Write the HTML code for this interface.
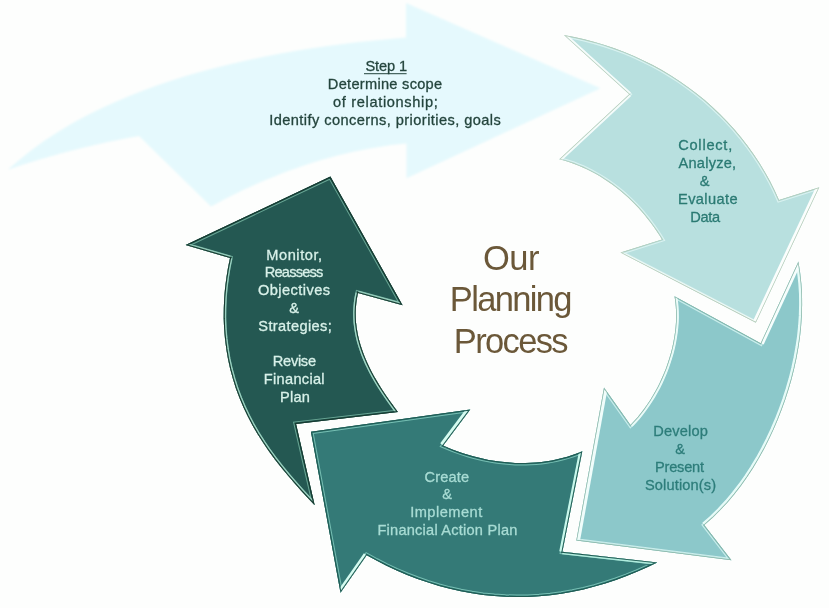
<!DOCTYPE html>
<html lang="en"><head><meta charset="utf-8"><title>Our Planning Process</title>
<style>
html,body{margin:0;padding:0;background:#fdfefd;}
body{width:829px;height:608px;overflow:hidden;position:relative;font-family:"Liberation Sans",sans-serif;}
svg{position:absolute;left:0;top:0;display:block}
text{font-family:"Liberation Sans",sans-serif;text-anchor:middle}
</style></head><body>
<svg width="829" height="608" viewBox="0 0 829 608">
<defs>
<filter id="soft" x="-5%" y="-10%" width="110%" height="120%"><feGaussianBlur stdDeviation="0.9"/></filter>
<clipPath id="ca2"><path d="M563.9,35.1L574.2,37.0L584.4,39.3L594.6,42.0L604.6,45.0L614.5,48.3L624.3,52.0L633.9,56.0L643.4,60.4L652.8,65.1L661.9,70.1L670.9,75.5L679.7,81.2L688.2,87.2L696.6,93.5L704.7,100.1L712.5,107.1L720.1,114.3L727.4,121.8L734.5,129.5L741.2,137.5L747.6,145.8L753.7,154.3L759.5,163.0L764.9,172.0L770.0,181.1L774.7,190.5L779.0,200.0L819.3,187.3L755.8,322.7L620.5,252.6L662.0,239.5L659.4,235.3L656.7,231.2L653.8,227.1L650.9,223.1L647.9,219.2L644.8,215.3L641.6,211.5L638.3,207.8L634.9,204.3L631.4,200.8L627.8,197.3L624.1,194.0L620.3,190.8L616.5,187.8L612.6,184.8L608.5,181.9L604.4,179.2L600.3,176.6L596.0,174.1L591.7,171.7L587.3,169.5L582.8,167.4L578.2,165.5L573.6,163.7L568.9,162.1L564.1,160.6L559.3,159.3L629.2,94.3Z"/></clipPath>
<clipPath id="ca3"><path d="M798.4,261.5L800.1,272.4L801.3,283.2L802.0,294.0L802.1,304.7L801.8,315.4L801.1,326.1L800.0,336.8L798.4,347.4L796.5,357.9L794.2,368.4L791.6,378.9L788.6,389.2L785.3,399.5L781.6,409.7L777.7,419.8L773.4,429.7L768.8,439.5L763.9,449.2L758.7,458.6L753.1,467.9L747.2,476.9L741.0,485.7L734.4,494.2L727.5,502.4L720.1,510.3L712.4,517.9L704.3,525.0L731.5,560.3L576.3,540.5L604.0,387.6L630.5,425.0L634.1,421.1L637.6,417.2L640.9,413.1L644.0,409.0L647.0,404.7L649.9,400.4L652.6,396.0L655.2,391.5L657.7,386.9L660.0,382.3L662.1,377.6L664.2,372.8L666.1,367.9L667.8,363.0L669.4,358.0L670.9,353.0L672.2,347.9L673.3,342.8L674.2,337.7L675.0,332.5L675.6,327.3L676.0,322.1L676.2,316.9L676.1,311.7L675.8,306.5L675.3,301.3L674.5,296.2L760.7,343.2Z"/></clipPath>
<clipPath id="ca4"><path d="M310.9,431.7L470.3,409.5L443.3,445.6L448.1,447.7L453.0,449.7L457.9,451.5L462.9,453.2L468.0,454.8L473.1,456.3L478.2,457.6L483.4,458.8L488.6,459.9L493.9,460.8L499.2,461.5L504.4,462.1L509.7,462.6L515.0,462.9L520.3,463.0L525.6,463.0L530.9,462.8L536.2,462.5L541.5,461.9L546.7,461.2L551.9,460.4L557.1,459.3L562.2,458.1L567.3,456.7L572.4,455.1L577.4,453.3L582.3,451.3L562.4,551.8L657.3,562.4L647.2,567.2L636.9,571.8L626.5,576.0L615.9,579.9L605.2,583.4L594.4,586.6L583.5,589.4L572.5,591.7L561.4,593.7L550.3,595.2L539.1,596.3L527.9,596.9L516.7,597.1L505.5,596.8L494.3,596.1L483.1,594.9L472.0,593.3L460.9,591.3L449.9,588.8L439.1,585.9L428.3,582.6L417.6,578.9L407.1,574.9L396.7,570.5L386.5,565.7L376.5,560.6L366.7,555.3L340.5,592.7Z"/></clipPath>
<clipPath id="ca5"><path d="M330.4,176.6L402.6,305.2L358.0,293.0L357.0,298.0L356.3,302.9L355.9,307.8L355.7,312.6L355.8,317.4L356.0,322.2L356.6,326.9L357.3,331.6L358.2,336.2L359.3,340.8L360.6,345.3L362.1,349.8L363.7,354.3L365.5,358.7L367.4,363.1L369.5,367.4L371.6,371.7L373.9,375.9L376.3,380.1L378.8,384.3L381.4,388.4L384.0,392.4L386.7,396.4L389.5,400.4L392.3,404.3L395.1,408.2L398.0,412.0L296.1,423.9L314.7,505.3L307.8,497.9L300.9,490.4L294.1,482.8L287.5,475.1L281.0,467.2L274.7,459.2L268.7,451.0L263.0,442.6L257.5,434.0L252.4,425.3L247.7,416.3L243.4,407.2L239.5,397.9L235.9,388.4L232.9,378.7L230.2,369.0L228.0,359.0L226.3,349.0L225.0,338.8L224.1,328.6L223.7,318.4L223.8,308.2L224.2,297.9L225.1,287.8L226.4,277.7L228.0,267.8L230.0,258.0L185.6,245.1Z"/></clipPath>
</defs>
<rect width="829" height="608" fill="#fdfefd"/>
<path d="M7.7,169.8L19.8,159.4L32.3,149.5L45.1,140.3L58.3,131.7L71.9,123.6L85.7,116.1L99.8,109.0L114.1,102.4L128.6,96.2L143.3,90.4L158.2,85.0L173.2,80.0L188.3,75.3L203.5,71.0L218.8,66.9L234.2,63.2L249.6,59.7L265.1,56.5L280.7,53.5L296.2,50.8L311.8,48.3L327.5,46.0L343.1,43.9L358.8,42.0L374.5,40.4L390.2,38.9L406.0,37.6L406.0,3.0L600.5,88.3L406.5,178.2L406.5,143.4L398.9,144.2L391.2,145.1L383.6,146.2L376.1,147.4L368.5,148.7L361.0,150.2L353.5,151.8L346.0,153.5L338.6,155.3L331.2,157.3L323.9,159.3L316.5,161.5L309.2,163.8L301.9,166.2L294.7,168.7L287.5,171.3L280.4,174.1L273.2,176.9L266.2,179.8L259.1,182.8L252.1,185.9L245.2,189.1L238.2,192.4L231.4,195.8L224.5,199.3L217.7,202.9L211.0,206.5L139.0,136.0L134.0,136.9L129.1,137.8L124.2,138.8L119.2,139.7L114.3,140.7L109.4,141.8L104.5,142.8L99.6,143.9L94.7,145.0L89.8,146.2L84.9,147.3L80.0,148.5L75.2,149.7L70.3,151.0L65.4,152.3L60.6,153.6L55.7,154.9L50.9,156.3L46.1,157.7L41.3,159.1L36.4,160.5L31.6,162.0L26.8,163.5L22.0,165.0L17.3,166.6L12.5,168.2L7.7,169.8Z" fill="#e5f9fd" filter="url(#soft)"/>
<g clip-path="url(#ca2)" fill="none" stroke-miterlimit="10"><path d="M563.9,35.1L574.2,37.0L584.4,39.3L594.6,42.0L604.6,45.0L614.5,48.3L624.3,52.0L633.9,56.0L643.4,60.4L652.8,65.1L661.9,70.1L670.9,75.5L679.7,81.2L688.2,87.2L696.6,93.5L704.7,100.1L712.5,107.1L720.1,114.3L727.4,121.8L734.5,129.5L741.2,137.5L747.6,145.8L753.7,154.3L759.5,163.0L764.9,172.0L770.0,181.1L774.7,190.5L779.0,200.0L819.3,187.3L755.8,322.7L620.5,252.6L662.0,239.5L659.4,235.3L656.7,231.2L653.8,227.1L650.9,223.1L647.9,219.2L644.8,215.3L641.6,211.5L638.3,207.8L634.9,204.3L631.4,200.8L627.8,197.3L624.1,194.0L620.3,190.8L616.5,187.8L612.6,184.8L608.5,181.9L604.4,179.2L600.3,176.6L596.0,174.1L591.7,171.7L587.3,169.5L582.8,167.4L578.2,165.5L573.6,163.7L568.9,162.1L564.1,160.6L559.3,159.3L629.2,94.3Z" fill="#b8e0df"/>
<path d="M563.9,35.1L574.2,37.0L584.4,39.3L594.6,42.0L604.6,45.0L614.5,48.3L624.3,52.0L633.9,56.0L643.4,60.4L652.8,65.1L661.9,70.1L670.9,75.5L679.7,81.2L688.2,87.2L696.6,93.5L704.7,100.1L712.5,107.1L720.1,114.3L727.4,121.8L734.5,129.5L741.2,137.5L747.6,145.8L753.7,154.3L759.5,163.0L764.9,172.0L770.0,181.1L774.7,190.5L779.0,200.0L819.3,187.3L755.8,322.7L620.5,252.6L662.0,239.5L659.4,235.3L656.7,231.2L653.8,227.1L650.9,223.1L647.9,219.2L644.8,215.3L641.6,211.5L638.3,207.8L634.9,204.3L631.4,200.8L627.8,197.3L624.1,194.0L620.3,190.8L616.5,187.8L612.6,184.8L608.5,181.9L604.4,179.2L600.3,176.6L596.0,174.1L591.7,171.7L587.3,169.5L582.8,167.4L578.2,165.5L573.6,163.7L568.9,162.1L564.1,160.6L559.3,159.3L629.2,94.3Z" stroke="#e6f8f5" stroke-opacity="0.75" stroke-width="4.5"/>
<path d="M563.9,35.1L574.2,37.0L584.4,39.3L594.6,42.0L604.6,45.0L614.5,48.3L624.3,52.0L633.9,56.0L643.4,60.4L652.8,65.1L661.9,70.1L670.9,75.5L679.7,81.2L688.2,87.2L696.6,93.5L704.7,100.1L712.5,107.1L720.1,114.3L727.4,121.8L734.5,129.5L741.2,137.5L747.6,145.8L753.7,154.3L759.5,163.0L764.9,172.0L770.0,181.1L774.7,190.5L779.0,200.0L819.3,187.3L755.8,322.7L620.5,252.6L662.0,239.5L659.4,235.3L656.7,231.2L653.8,227.1L650.9,223.1L647.9,219.2L644.8,215.3L641.6,211.5L638.3,207.8L634.9,204.3L631.4,200.8L627.8,197.3L624.1,194.0L620.3,190.8L616.5,187.8L612.6,184.8L608.5,181.9L604.4,179.2L600.3,176.6L596.0,174.1L591.7,171.7L587.3,169.5L582.8,167.4L578.2,165.5L573.6,163.7L568.9,162.1L564.1,160.6L559.3,159.3L629.2,94.3Z" stroke="#b8e0df" stroke-width="2.3"/>
<path d="M819.3,187.3L755.8,322.7" stroke="#fbfefd" stroke-opacity="1" stroke-width="6.5" stroke-linecap="butt"/>
<path d="M559.3,159.3L629.2,94.3" stroke="#f4fcfb" stroke-opacity="1" stroke-width="5.1" stroke-linecap="butt"/>
<path d="M629.2,94.3L563.9,35.1" stroke="#f4fcfb" stroke-opacity="1" stroke-width="5.1" stroke-linecap="butt"/>
<path d="M755.8,322.7L620.5,252.6" stroke="#f4fcfb" stroke-opacity="0.9" stroke-width="3.1" stroke-linecap="butt"/>
<path d="M563.9,35.1L574.2,37.0L584.4,39.3L594.6,42.0L604.6,45.0L614.5,48.3L624.3,52.0L633.9,56.0L643.4,60.4L652.8,65.1L661.9,70.1L670.9,75.5L679.7,81.2L688.2,87.2L696.6,93.5L704.7,100.1L712.5,107.1L720.1,114.3L727.4,121.8L734.5,129.5L741.2,137.5L747.6,145.8L753.7,154.3L759.5,163.0L764.9,172.0L770.0,181.1L774.7,190.5L779.0,200.0L819.3,187.3L755.8,322.7L620.5,252.6L662.0,239.5L659.4,235.3L656.7,231.2L653.8,227.1L650.9,223.1L647.9,219.2L644.8,215.3L641.6,211.5L638.3,207.8L634.9,204.3L631.4,200.8L627.8,197.3L624.1,194.0L620.3,190.8L616.5,187.8L612.6,184.8L608.5,181.9L604.4,179.2L600.3,176.6L596.0,174.1L591.7,171.7L587.3,169.5L582.8,167.4L578.2,165.5L573.6,163.7L568.9,162.1L564.1,160.6L559.3,159.3L629.2,94.3Z" stroke="#b3c9b4" stroke-width="1.3"/></g>
<g clip-path="url(#ca3)" fill="none" stroke-miterlimit="10"><path d="M798.4,261.5L800.1,272.4L801.3,283.2L802.0,294.0L802.1,304.7L801.8,315.4L801.1,326.1L800.0,336.8L798.4,347.4L796.5,357.9L794.2,368.4L791.6,378.9L788.6,389.2L785.3,399.5L781.6,409.7L777.7,419.8L773.4,429.7L768.8,439.5L763.9,449.2L758.7,458.6L753.1,467.9L747.2,476.9L741.0,485.7L734.4,494.2L727.5,502.4L720.1,510.3L712.4,517.9L704.3,525.0L731.5,560.3L576.3,540.5L604.0,387.6L630.5,425.0L634.1,421.1L637.6,417.2L640.9,413.1L644.0,409.0L647.0,404.7L649.9,400.4L652.6,396.0L655.2,391.5L657.7,386.9L660.0,382.3L662.1,377.6L664.2,372.8L666.1,367.9L667.8,363.0L669.4,358.0L670.9,353.0L672.2,347.9L673.3,342.8L674.2,337.7L675.0,332.5L675.6,327.3L676.0,322.1L676.2,316.9L676.1,311.7L675.8,306.5L675.3,301.3L674.5,296.2L760.7,343.2Z" fill="#8cc8ca"/>
<path d="M798.4,261.5L800.1,272.4L801.3,283.2L802.0,294.0L802.1,304.7L801.8,315.4L801.1,326.1L800.0,336.8L798.4,347.4L796.5,357.9L794.2,368.4L791.6,378.9L788.6,389.2L785.3,399.5L781.6,409.7L777.7,419.8L773.4,429.7L768.8,439.5L763.9,449.2L758.7,458.6L753.1,467.9L747.2,476.9L741.0,485.7L734.4,494.2L727.5,502.4L720.1,510.3L712.4,517.9L704.3,525.0L731.5,560.3L576.3,540.5L604.0,387.6L630.5,425.0L634.1,421.1L637.6,417.2L640.9,413.1L644.0,409.0L647.0,404.7L649.9,400.4L652.6,396.0L655.2,391.5L657.7,386.9L660.0,382.3L662.1,377.6L664.2,372.8L666.1,367.9L667.8,363.0L669.4,358.0L670.9,353.0L672.2,347.9L673.3,342.8L674.2,337.7L675.0,332.5L675.6,327.3L676.0,322.1L676.2,316.9L676.1,311.7L675.8,306.5L675.3,301.3L674.5,296.2L760.7,343.2Z" stroke="#d8f6f2" stroke-opacity="0.8" stroke-width="4.6"/>
<path d="M798.4,261.5L800.1,272.4L801.3,283.2L802.0,294.0L802.1,304.7L801.8,315.4L801.1,326.1L800.0,336.8L798.4,347.4L796.5,357.9L794.2,368.4L791.6,378.9L788.6,389.2L785.3,399.5L781.6,409.7L777.7,419.8L773.4,429.7L768.8,439.5L763.9,449.2L758.7,458.6L753.1,467.9L747.2,476.9L741.0,485.7L734.4,494.2L727.5,502.4L720.1,510.3L712.4,517.9L704.3,525.0L731.5,560.3L576.3,540.5L604.0,387.6L630.5,425.0L634.1,421.1L637.6,417.2L640.9,413.1L644.0,409.0L647.0,404.7L649.9,400.4L652.6,396.0L655.2,391.5L657.7,386.9L660.0,382.3L662.1,377.6L664.2,372.8L666.1,367.9L667.8,363.0L669.4,358.0L670.9,353.0L672.2,347.9L673.3,342.8L674.2,337.7L675.0,332.5L675.6,327.3L676.0,322.1L676.2,316.9L676.1,311.7L675.8,306.5L675.3,301.3L674.5,296.2L760.7,343.2Z" stroke="#8cc8ca" stroke-width="2.4"/>
<path d="M798.4,261.5L800.1,272.4L801.3,283.2L802.0,294.0L802.1,304.7L801.8,315.4L801.1,326.1L800.0,336.8L798.4,347.4L796.5,357.9L794.2,368.4L791.6,378.9L788.6,389.2L785.3,399.5L781.6,409.7L777.7,419.8L773.4,429.7L768.8,439.5L763.9,449.2L758.7,458.6L753.1,467.9L747.2,476.9L741.0,485.7L734.4,494.2L727.5,502.4L720.1,510.3L712.4,517.9L704.3,525.0" stroke="#e6fbf8" stroke-opacity="1" stroke-width="6.0" stroke-linecap="butt"/>
<path d="M576.3,540.5L604.0,387.6" stroke="#f0fdfb" stroke-opacity="1" stroke-width="7.4" stroke-linecap="butt"/>
<path d="M630.5,425.0L634.1,421.1L637.6,417.2L640.9,413.1L644.0,409.0L647.0,404.7L649.9,400.4L652.6,396.0L655.2,391.5L657.7,386.9L660.0,382.3L662.1,377.6L664.2,372.8L666.1,367.9L667.8,363.0L669.4,358.0L670.9,353.0L672.2,347.9L673.3,342.8L674.2,337.7L675.0,332.5L675.6,327.3L676.0,322.1L676.2,316.9L676.1,311.7L675.8,306.5L675.3,301.3L674.5,296.2" stroke="#e9fbf8" stroke-opacity="1" stroke-width="5.4" stroke-linecap="butt"/>
<path d="M760.7,343.2L798.4,261.5" stroke="#f6fefd" stroke-opacity="1" stroke-width="6.6" stroke-linecap="butt"/>
<path d="M731.5,560.3L576.3,540.5" stroke="#dcf7f3" stroke-opacity="0.7" stroke-width="3.0" stroke-linecap="butt"/>
<path d="M798.4,261.5L800.1,272.4L801.3,283.2L802.0,294.0L802.1,304.7L801.8,315.4L801.1,326.1L800.0,336.8L798.4,347.4L796.5,357.9L794.2,368.4L791.6,378.9L788.6,389.2L785.3,399.5L781.6,409.7L777.7,419.8L773.4,429.7L768.8,439.5L763.9,449.2L758.7,458.6L753.1,467.9L747.2,476.9L741.0,485.7L734.4,494.2L727.5,502.4L720.1,510.3L712.4,517.9L704.3,525.0L731.5,560.3L576.3,540.5L604.0,387.6L630.5,425.0L634.1,421.1L637.6,417.2L640.9,413.1L644.0,409.0L647.0,404.7L649.9,400.4L652.6,396.0L655.2,391.5L657.7,386.9L660.0,382.3L662.1,377.6L664.2,372.8L666.1,367.9L667.8,363.0L669.4,358.0L670.9,353.0L672.2,347.9L673.3,342.8L674.2,337.7L675.0,332.5L675.6,327.3L676.0,322.1L676.2,316.9L676.1,311.7L675.8,306.5L675.3,301.3L674.5,296.2L760.7,343.2Z" stroke="#86b3a4" stroke-width="1.4"/></g>
<g clip-path="url(#ca5)" fill="none" stroke-miterlimit="10"><path d="M330.4,176.6L402.6,305.2L358.0,293.0L357.0,298.0L356.3,302.9L355.9,307.8L355.7,312.6L355.8,317.4L356.0,322.2L356.6,326.9L357.3,331.6L358.2,336.2L359.3,340.8L360.6,345.3L362.1,349.8L363.7,354.3L365.5,358.7L367.4,363.1L369.5,367.4L371.6,371.7L373.9,375.9L376.3,380.1L378.8,384.3L381.4,388.4L384.0,392.4L386.7,396.4L389.5,400.4L392.3,404.3L395.1,408.2L398.0,412.0L296.1,423.9L314.7,505.3L307.8,497.9L300.9,490.4L294.1,482.8L287.5,475.1L281.0,467.2L274.7,459.2L268.7,451.0L263.0,442.6L257.5,434.0L252.4,425.3L247.7,416.3L243.4,407.2L239.5,397.9L235.9,388.4L232.9,378.7L230.2,369.0L228.0,359.0L226.3,349.0L225.0,338.8L224.1,328.6L223.7,318.4L223.8,308.2L224.2,297.9L225.1,287.8L226.4,277.7L228.0,267.8L230.0,258.0L185.6,245.1Z" fill="#245852"/>
<path d="M330.4,176.6L402.6,305.2L358.0,293.0L357.0,298.0L356.3,302.9L355.9,307.8L355.7,312.6L355.8,317.4L356.0,322.2L356.6,326.9L357.3,331.6L358.2,336.2L359.3,340.8L360.6,345.3L362.1,349.8L363.7,354.3L365.5,358.7L367.4,363.1L369.5,367.4L371.6,371.7L373.9,375.9L376.3,380.1L378.8,384.3L381.4,388.4L384.0,392.4L386.7,396.4L389.5,400.4L392.3,404.3L395.1,408.2L398.0,412.0L296.1,423.9L314.7,505.3L307.8,497.9L300.9,490.4L294.1,482.8L287.5,475.1L281.0,467.2L274.7,459.2L268.7,451.0L263.0,442.6L257.5,434.0L252.4,425.3L247.7,416.3L243.4,407.2L239.5,397.9L235.9,388.4L232.9,378.7L230.2,369.0L228.0,359.0L226.3,349.0L225.0,338.8L224.1,328.6L223.7,318.4L223.8,308.2L224.2,297.9L225.1,287.8L226.4,277.7L228.0,267.8L230.0,258.0L185.6,245.1Z" stroke="#7fbfa9" stroke-opacity="0.75" stroke-width="5.2"/>
<path d="M330.4,176.6L402.6,305.2L358.0,293.0L357.0,298.0L356.3,302.9L355.9,307.8L355.7,312.6L355.8,317.4L356.0,322.2L356.6,326.9L357.3,331.6L358.2,336.2L359.3,340.8L360.6,345.3L362.1,349.8L363.7,354.3L365.5,358.7L367.4,363.1L369.5,367.4L371.6,371.7L373.9,375.9L376.3,380.1L378.8,384.3L381.4,388.4L384.0,392.4L386.7,396.4L389.5,400.4L392.3,404.3L395.1,408.2L398.0,412.0L296.1,423.9L314.7,505.3L307.8,497.9L300.9,490.4L294.1,482.8L287.5,475.1L281.0,467.2L274.7,459.2L268.7,451.0L263.0,442.6L257.5,434.0L252.4,425.3L247.7,416.3L243.4,407.2L239.5,397.9L235.9,388.4L232.9,378.7L230.2,369.0L228.0,359.0L226.3,349.0L225.0,338.8L224.1,328.6L223.7,318.4L223.8,308.2L224.2,297.9L225.1,287.8L226.4,277.7L228.0,267.8L230.0,258.0L185.6,245.1Z" stroke="#245852" stroke-width="3.2"/>
<path d="M314.7,505.3L307.8,497.9L300.9,490.4L294.1,482.8L287.5,475.1L281.0,467.2L274.7,459.2L268.7,451.0L263.0,442.6L257.5,434.0L252.4,425.3L247.7,416.3L243.4,407.2L239.5,397.9L235.9,388.4L232.9,378.7L230.2,369.0L228.0,359.0L226.3,349.0L225.0,338.8L224.1,328.6L223.7,318.4L223.8,308.2L224.2,297.9L225.1,287.8L226.4,277.7L228.0,267.8L230.0,258.0" stroke="#a5dccb" stroke-opacity="0.85" stroke-width="4.8" stroke-linecap="butt"/>
<path d="M358.0,293.0L357.0,298.0L356.3,302.9L355.9,307.8L355.7,312.6L355.8,317.4L356.0,322.2L356.6,326.9L357.3,331.6L358.2,336.2L359.3,340.8L360.6,345.3L362.1,349.8L363.7,354.3L365.5,358.7L367.4,363.1L369.5,367.4L371.6,371.7L373.9,375.9L376.3,380.1L378.8,384.3L381.4,388.4L384.0,392.4L386.7,396.4L389.5,400.4L392.3,404.3L395.1,408.2L398.0,412.0" stroke="#a5dccb" stroke-opacity="0.9" stroke-width="5.0" stroke-linecap="butt"/>
<path d="M402.6,305.2L358.0,293.0" stroke="#a5dccb" stroke-opacity="0.8" stroke-width="4.6" stroke-linecap="butt"/>
<path d="M230.0,258.0L185.6,245.1" stroke="#a5dccb" stroke-opacity="0.8" stroke-width="4.6" stroke-linecap="butt"/>
<path d="M330.4,176.6L402.6,305.2L358.0,293.0L357.0,298.0L356.3,302.9L355.9,307.8L355.7,312.6L355.8,317.4L356.0,322.2L356.6,326.9L357.3,331.6L358.2,336.2L359.3,340.8L360.6,345.3L362.1,349.8L363.7,354.3L365.5,358.7L367.4,363.1L369.5,367.4L371.6,371.7L373.9,375.9L376.3,380.1L378.8,384.3L381.4,388.4L384.0,392.4L386.7,396.4L389.5,400.4L392.3,404.3L395.1,408.2L398.0,412.0L296.1,423.9L314.7,505.3L307.8,497.9L300.9,490.4L294.1,482.8L287.5,475.1L281.0,467.2L274.7,459.2L268.7,451.0L263.0,442.6L257.5,434.0L252.4,425.3L247.7,416.3L243.4,407.2L239.5,397.9L235.9,388.4L232.9,378.7L230.2,369.0L228.0,359.0L226.3,349.0L225.0,338.8L224.1,328.6L223.7,318.4L223.8,308.2L224.2,297.9L225.1,287.8L226.4,277.7L228.0,267.8L230.0,258.0L185.6,245.1Z" stroke="#173a30" stroke-width="2.2"/></g>
<g clip-path="url(#ca4)" fill="none" stroke-miterlimit="10"><path d="M310.9,431.7L470.3,409.5L443.3,445.6L448.1,447.7L453.0,449.7L457.9,451.5L462.9,453.2L468.0,454.8L473.1,456.3L478.2,457.6L483.4,458.8L488.6,459.9L493.9,460.8L499.2,461.5L504.4,462.1L509.7,462.6L515.0,462.9L520.3,463.0L525.6,463.0L530.9,462.8L536.2,462.5L541.5,461.9L546.7,461.2L551.9,460.4L557.1,459.3L562.2,458.1L567.3,456.7L572.4,455.1L577.4,453.3L582.3,451.3L562.4,551.8L657.3,562.4L647.2,567.2L636.9,571.8L626.5,576.0L615.9,579.9L605.2,583.4L594.4,586.6L583.5,589.4L572.5,591.7L561.4,593.7L550.3,595.2L539.1,596.3L527.9,596.9L516.7,597.1L505.5,596.8L494.3,596.1L483.1,594.9L472.0,593.3L460.9,591.3L449.9,588.8L439.1,585.9L428.3,582.6L417.6,578.9L407.1,574.9L396.7,570.5L386.5,565.7L376.5,560.6L366.7,555.3L340.5,592.7Z" fill="#347a77"/>
<path d="M310.9,431.7L470.3,409.5L443.3,445.6L448.1,447.7L453.0,449.7L457.9,451.5L462.9,453.2L468.0,454.8L473.1,456.3L478.2,457.6L483.4,458.8L488.6,459.9L493.9,460.8L499.2,461.5L504.4,462.1L509.7,462.6L515.0,462.9L520.3,463.0L525.6,463.0L530.9,462.8L536.2,462.5L541.5,461.9L546.7,461.2L551.9,460.4L557.1,459.3L562.2,458.1L567.3,456.7L572.4,455.1L577.4,453.3L582.3,451.3L562.4,551.8L657.3,562.4L647.2,567.2L636.9,571.8L626.5,576.0L615.9,579.9L605.2,583.4L594.4,586.6L583.5,589.4L572.5,591.7L561.4,593.7L550.3,595.2L539.1,596.3L527.9,596.9L516.7,597.1L505.5,596.8L494.3,596.1L483.1,594.9L472.0,593.3L460.9,591.3L449.9,588.8L439.1,585.9L428.3,582.6L417.6,578.9L407.1,574.9L396.7,570.5L386.5,565.7L376.5,560.6L366.7,555.3L340.5,592.7Z" stroke="#86cfc0" stroke-opacity="0.8" stroke-width="5.0"/>
<path d="M310.9,431.7L470.3,409.5L443.3,445.6L448.1,447.7L453.0,449.7L457.9,451.5L462.9,453.2L468.0,454.8L473.1,456.3L478.2,457.6L483.4,458.8L488.6,459.9L493.9,460.8L499.2,461.5L504.4,462.1L509.7,462.6L515.0,462.9L520.3,463.0L525.6,463.0L530.9,462.8L536.2,462.5L541.5,461.9L546.7,461.2L551.9,460.4L557.1,459.3L562.2,458.1L567.3,456.7L572.4,455.1L577.4,453.3L582.3,451.3L562.4,551.8L657.3,562.4L647.2,567.2L636.9,571.8L626.5,576.0L615.9,579.9L605.2,583.4L594.4,586.6L583.5,589.4L572.5,591.7L561.4,593.7L550.3,595.2L539.1,596.3L527.9,596.9L516.7,597.1L505.5,596.8L494.3,596.1L483.1,594.9L472.0,593.3L460.9,591.3L449.9,588.8L439.1,585.9L428.3,582.6L417.6,578.9L407.1,574.9L396.7,570.5L386.5,565.7L376.5,560.6L366.7,555.3L340.5,592.7Z" stroke="#347a77" stroke-width="3.0"/>
<path d="M470.3,409.5L443.3,445.6" stroke="#d4fbf0" stroke-opacity="1" stroke-width="7.6" stroke-linecap="butt"/>
<path d="M582.3,451.3L562.4,551.8" stroke="#c8f8ec" stroke-opacity="1" stroke-width="6.4" stroke-linecap="butt"/>
<path d="M562.4,551.8L657.3,562.4" stroke="#b4efe0" stroke-opacity="0.95" stroke-width="4.8" stroke-linecap="butt"/>
<path d="M366.7,555.3L340.5,592.7" stroke="#d4fbf0" stroke-opacity="1" stroke-width="6.8" stroke-linecap="butt"/>
<path d="M310.9,431.7L470.3,409.5L443.3,445.6L448.1,447.7L453.0,449.7L457.9,451.5L462.9,453.2L468.0,454.8L473.1,456.3L478.2,457.6L483.4,458.8L488.6,459.9L493.9,460.8L499.2,461.5L504.4,462.1L509.7,462.6L515.0,462.9L520.3,463.0L525.6,463.0L530.9,462.8L536.2,462.5L541.5,461.9L546.7,461.2L551.9,460.4L557.1,459.3L562.2,458.1L567.3,456.7L572.4,455.1L577.4,453.3L582.3,451.3L562.4,551.8L657.3,562.4L647.2,567.2L636.9,571.8L626.5,576.0L615.9,579.9L605.2,583.4L594.4,586.6L583.5,589.4L572.5,591.7L561.4,593.7L550.3,595.2L539.1,596.3L527.9,596.9L516.7,597.1L505.5,596.8L494.3,596.1L483.1,594.9L472.0,593.3L460.9,591.3L449.9,588.8L439.1,585.9L428.3,582.6L417.6,578.9L407.1,574.9L396.7,570.5L386.5,565.7L376.5,560.6L366.7,555.3L340.5,592.7Z" stroke="#1f5a52" stroke-width="2.0"/></g>
<g font-size="14.6" fill="#24453d" opacity="0.996" stroke="#24453d" stroke-width="0.3">
<text id="t0_0" x="386.2" y="70.6" textLength="41.6" lengthAdjust="spacing">Step 1</text>
<text id="t0_1" x="385.0" y="89.0" textLength="114.3" lengthAdjust="spacing">Determine scope</text>
<text id="t0_2" x="385.4" y="107.1" textLength="104.9" lengthAdjust="spacing">of relationship;</text>
<text id="t0_3" x="385.0" y="125.4" textLength="231.6" lengthAdjust="spacing">Identify concerns, priorities, goals</text>
</g>
<g font-size="14.6" fill="#2a7a73" opacity="0.996" stroke="#2a7a73" stroke-width="0.3">
<text id="t1_0" x="705.2" y="149.8" textLength="54.1" lengthAdjust="spacing">Collect,</text>
<text id="t1_1" x="707.3" y="167.7" textLength="57.6" lengthAdjust="spacing">Analyze,</text>
<text id="t1_2" x="704.5" y="185.6">&amp;</text>
<text id="t1_3" x="707.8" y="203.5" textLength="59.4" lengthAdjust="spacing">Evaluate</text>
<text id="t1_4" x="705.2" y="221.7" textLength="30.0" lengthAdjust="spacing">Data</text>
</g>
<g font-size="14.6" fill="#2d7d7a" opacity="0.996" stroke="#2d7d7a" stroke-width="0.3">
<text id="t2_0" x="680.6" y="435.9" textLength="54.5" lengthAdjust="spacing">Develop</text>
<text id="t2_1" x="680.0" y="454">&amp;</text>
<text id="t2_2" x="679.5" y="472" textLength="49.1" lengthAdjust="spacing">Present</text>
<text id="t2_3" x="680.5" y="489.8" textLength="71.0" lengthAdjust="spacing">Solution(s)</text>
</g>
<g font-size="14.6" fill="#a9ddd5" opacity="0.996" stroke="#a9ddd5" stroke-width="0.3">
<text id="t3_0" x="446.8" y="481.8" textLength="44.8" lengthAdjust="spacing">Create</text>
<text id="t3_1" x="447.0" y="499.4">&amp;</text>
<text id="t3_2" x="446.2" y="517.2" textLength="72.1" lengthAdjust="spacing">Implement</text>
<text id="t3_3" x="447.4" y="535" textLength="139.9" lengthAdjust="spacing">Financial Action Plan</text>
</g>
<g font-size="14.6" fill="#d9f2ea" opacity="0.996" stroke="#d9f2ea" stroke-width="0.3">
<text id="t4_0" x="294.2" y="259.6" textLength="55.9" lengthAdjust="spacing">Monitor,</text>
<text id="t4_1" x="294.0" y="277.2" textLength="58.5" lengthAdjust="spacing">Reassess</text>
<text id="t4_2" x="294.0" y="294.8" textLength="72.1" lengthAdjust="spacing">Objectives</text>
<text id="t4_3" x="294.0" y="312.6">&amp;</text>
<text id="t4_4" x="295.0" y="330.6" textLength="73.4" lengthAdjust="spacing">Strategies;</text>
<text id="t4_5" x="294.4" y="366.1" textLength="43.2" lengthAdjust="spacing">Revise</text>
<text id="t4_6" x="294.2" y="384" textLength="60.8" lengthAdjust="spacing">Financial</text>
<text id="t4_7" x="295.0" y="402" textLength="29.8" lengthAdjust="spacing">Plan</text>
</g>
<g font-size="34.5" fill="#6b5839" letter-spacing="-1.3" opacity="0.996">
<text id="t5_0" x="510.5" y="270.4" textLength="55.2" lengthAdjust="spacing">Our</text>
<text id="t5_1" x="510.5" y="311.4" textLength="121.3" lengthAdjust="spacing">Planning</text>
<text id="t5_2" x="510.5" y="352.9" textLength="113.5" lengthAdjust="spacing">Process</text>
</g>
<rect x="364" y="73.2" width="42.6" height="1" fill="#24453d"/>
</svg>
</body></html>
